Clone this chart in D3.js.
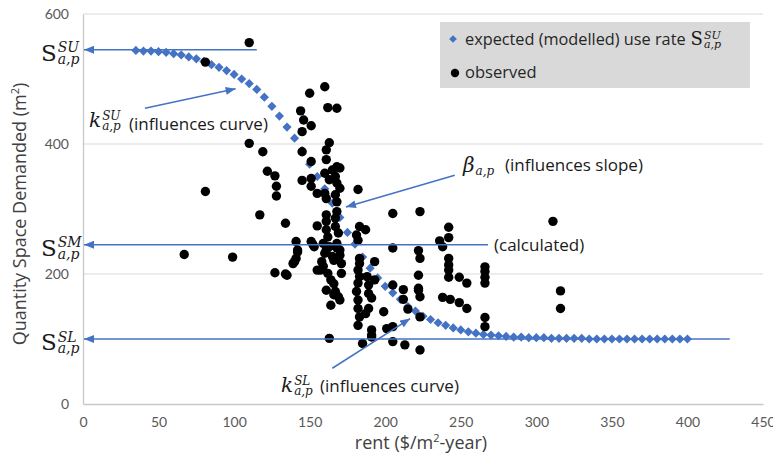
<!DOCTYPE html>
<html>
<head>
<meta charset="utf-8">
<script src="https://cdn.jsdelivr.net/npm/d3@7"></script>
<style>
  html, body { margin: 0; padding: 0; background: #fff; }
  svg { display: block; }
</style>
</head>
<body>
<div id="chart"></div>
<script>
const xTicks = [0, 50, 100, 150, 200, 250, 300, 350, 400, 450];
const yTicks = [0, 200, 400, 600];

// modelled use rate, one diamond every 5 $/m2
const modelRent = [35, 40, 45, 50, 55, 60, 65, 70, 75, 80, 85, 90, 95, 100, 105, 110, 115, 120, 125, 130,
  135, 140, 145, 150, 155, 160, 165, 170, 175, 180, 185, 190, 195, 200, 205, 210, 215, 220, 225, 230,
  235, 240, 245, 250, 255, 260, 265, 270, 275, 280, 285, 290, 295, 300, 305, 310, 315, 320, 325, 330,
  335, 340, 345, 350, 355, 360, 365, 370, 375, 380, 385, 390, 395, 400];
const modelSpace = [544, 543, 543, 542, 541, 539, 537, 534, 531, 527, 522, 518, 513, 507, 500, 493, 484, 472, 458, 443,
  426, 409, 390, 369, 350, 331, 309, 287, 264, 246, 226, 209, 194, 181, 171, 161, 150, 143, 135, 130,
  125, 121, 117, 114, 111, 109, 107, 106, 105, 104, 103, 103, 102, 102, 102, 101, 101, 101, 101, 101,
  100, 100, 100, 100, 100, 100, 100, 100, 100, 100, 100, 100, 100, 100];

// observed [rent, space]
const observed = [
  [110, 556], [81, 526], [160, 488], [150, 478], [162, 456], [168, 455], [144, 451], [146, 437], [151, 428], [145, 419],
  [163, 402], [110, 401], [119, 388], [145, 388], [161, 391], [151, 373], [161, 376], [168, 365], [165, 360], [170, 363],
  [122, 358], [127, 351], [128, 335], [128, 320], [145, 344], [151, 347], [151, 335], [155, 324], [160, 355], [167, 350],
  [163, 345], [168, 340], [170, 332], [160, 324], [167, 322], [161, 316], [168, 311], [182, 330], [81, 327], [117, 291],
  [134, 278], [155, 274], [161, 291], [168, 296], [161, 281], [167, 286], [161, 268], [167, 273], [169, 263], [162, 257],
  [183, 273], [187, 268], [181, 260], [182, 252], [141, 250], [142, 237], [151, 250], [153, 242], [159, 247], [163, 242],
  [168, 247], [170, 237], [160, 232], [165, 227], [169, 224], [141, 224], [139, 216], [158, 219], [193, 219], [67, 230],
  [99, 226], [127, 202], [135, 198], [155, 206], [152, 246], [161, 237], [168, 240], [170, 229], [142, 234], [140, 219],
  [159, 212], [166, 221], [171, 216], [134, 200], [157, 206], [162, 201], [171, 201], [183, 224], [183, 216], [182, 206],
  [183, 196], [182, 186], [181, 173], [182, 160], [182, 147], [183, 134], [182, 121], [188, 196], [189, 183], [189, 170],
  [191, 163], [189, 147], [187, 139], [193, 191], [161, 175], [167, 173], [169, 165], [170, 160], [166, 168], [199, 142],
  [201, 116], [191, 114], [191, 103], [185, 93], [205, 183], [212, 176], [212, 161], [215, 146], [205, 96], [213, 91],
  [223, 83], [163, 101], [205, 240], [222, 236], [223, 224], [222, 198], [222, 175], [223, 165], [223, 134], [205, 293],
  [223, 296], [222, 178], [205, 119], [236, 251], [242, 272], [242, 256], [242, 224], [242, 214], [242, 206], [242, 195],
  [249, 195], [254, 186], [238, 164], [243, 161], [249, 156], [254, 147], [266, 211], [266, 204], [266, 195], [266, 186],
  [266, 133], [266, 119], [311, 281], [316, 174], [316, 147], [238, 242], [191, 106], [164, 191], [164, 152], [166, 185]
];

// reference levels S_SU, S_SM, S_SL and how far right their arrows run
const levels = [
  { sup: 'SU', value: 545, end: 115 },
  { sup: 'SM', value: 245, end: 268 },
  { sup: 'SL', value: 100, end: 428 }
];

const width = 773;
const height = 458;
const blue = '#4472C4';
const sans = '"Open Sans", Lato, sans-serif';
const serif = '"DejaVu Serif", "Liberation Serif", serif';

const x = d3.scaleLinear().domain([0, 450]).range([83, 763]);
const y = d3.scaleLinear().domain([0, 600]).range([404, 14]);

const svg = d3.select('#chart').append('svg')
  .attr('width', width)
  .attr('height', height);

svg.append('defs').append('marker')
  .attr('id', 'arrow')
  .attr('viewBox', '0 0 10 8')
  .attr('refX', 10)
  .attr('refY', 4)
  .attr('markerUnits', 'userSpaceOnUse')
  .attr('markerWidth', 11)
  .attr('markerHeight', 8)
  .attr('orient', 'auto')
  .append('path')
  .attr('d', 'M0,0L10,4L0,8Z')
  .attr('fill', blue);

// grid lines
svg.append('g')
  .selectAll('line')
  .data(yTicks.filter(d => d > 0))
  .enter()
  .append('line')
  .attr('x1', x(0))
  .attr('x2', x(450))
  .attr('y1', d => y(d))
  .attr('y2', d => y(d))
  .attr('stroke', '#d9d9d9')
  .attr('stroke-width', 1);

// axes
const xAxis = svg.append('g')
  .attr('transform', `translate(0,${y(0)})`)
  .call(d3.axisBottom(x).tickValues(xTicks).tickSize(0).tickPadding(13));
const yAxis = svg.append('g')
  .attr('transform', `translate(${x(0)},0)`)
  .call(d3.axisLeft(y).tickValues(yTicks).tickSize(0).tickPadding(14));
[xAxis, yAxis].forEach(a => {
  a.select('.domain').attr('stroke', '#c8c8c8').attr('stroke-width', 1.3);
  a.selectAll('text')
    .attr('font-family', 'Lato, sans-serif')
    .attr('font-size', 14)
    .attr('fill', '#595959');
});

svg.append('text')
  .attr('x', 421)
  .attr('y', 449)
  .attr('text-anchor', 'middle')
  .attr('font-family', sans)
  .attr('font-size', 18)
  .attr('fill', '#404040')
  .call(t => {
    t.append('tspan').text('rent ($/m');
    t.append('tspan').attr('font-size', 11).attr('dy', -7).text('2');
    t.append('tspan').attr('dy', 7).text('-year)');
  });

svg.append('text')
  .attr('transform', 'translate(26,214) rotate(-90)')
  .attr('text-anchor', 'middle')
  .attr('font-family', sans)
  .attr('font-size', 18)
  .attr('fill', '#404040')
  .call(t => {
    t.append('tspan').text('Quantity Space Demanded (m');
    t.append('tspan').attr('font-size', 11).attr('dy', -7).text('2');
    t.append('tspan').attr('dy', 7).text(')');
  });

// modelled curve
svg.append('g')
  .selectAll('path')
  .data(modelRent.map((r, i) => [r, modelSpace[i]]))
  .enter()
  .append('path')
  .attr('d', d3.symbol(d3.symbolSquare, 42))
  .attr('transform', d => `translate(${x(d[0])},${y(d[1])}) rotate(45)`)
  .attr('fill', blue);

// observed
svg.append('g')
  .selectAll('circle')
  .data(observed)
  .enter()
  .append('circle')
  .attr('cx', d => x(d[0]))
  .attr('cy', d => y(d[1]))
  .attr('r', 4.7)
  .attr('fill', '#000');

// math label: main letter with stacked super- and subscript
function mathLabel(px, base, main, sup, sub, size, italic) {
  const g = svg.append('g').attr('font-family', serif).attr('fill', '#1a1a1a');
  const m = g.append('text')
    .attr('x', px)
    .attr('y', base)
    .attr('font-size', size)
    .attr('font-style', italic ? 'italic' : 'normal')
    .text(main);
  const right = px + m.node().getComputedTextLength() + 1;
  const small = Math.round(size * 0.6);
  if (sup) {
    g.append('text')
      .attr('x', right)
      .attr('y', base - size * 0.36)
      .attr('font-size', small)
      .attr('font-style', 'italic')
      .text(sup);
  }
  g.append('text')
    .attr('x', right)
    .attr('y', base + size * 0.14)
    .attr('font-size', small)
    .attr('font-style', 'italic')
    .text(sub);
}

function plainLabel(px, base, txt, size) {
  return svg.append('text')
    .attr('x', px)
    .attr('y', base)
    .attr('font-family', sans)
    .attr('font-size', size)
    .attr('fill', '#1a1a1a')
    .text(txt);
}

// horizontal level arrows + their S labels
levels.forEach(l => {
  svg.append('line')
    .attr('x1', x(l.end))
    .attr('x2', x(0) + 1)
    .attr('y1', y(l.value))
    .attr('y2', y(l.value))
    .attr('stroke', blue)
    .attr('stroke-width', 1.6)
    .attr('marker-end', 'url(#arrow)');
  mathLabel(41, y(l.value) + 11, 'S', l.sup, 'a,p', 23, false);
});
plainLabel(x(268) + 6, y(245) + 6, '(calculated)', 17);

// slanted annotation arrows
const pointers = [
  { from: [41, 455], to: [101, 485] },
  { from: [246, 352], to: [174, 303] },
  { from: [165, 55], to: [216.5, 131.5] }
];
svg.append('g')
  .selectAll('line')
  .data(pointers)
  .enter()
  .append('line')
  .attr('x1', d => x(d.from[0]))
  .attr('y1', d => y(d.from[1]))
  .attr('x2', d => x(d.to[0]))
  .attr('y2', d => y(d.to[1]))
  .attr('stroke', blue)
  .attr('stroke-width', 1.5)
  .attr('marker-end', 'url(#arrow)');

mathLabel(89, 127, 'k', 'SU', 'a,p', 20, true);
plainLabel(129, 130, '(influences curve)', 17);
mathLabel(463, 172, 'β', null, 'a,p', 20, true);
plainLabel(505, 171, '(influences slope)', 17);
mathLabel(281, 392, 'k', 'SL', 'a,p', 20, true);
plainLabel(320, 392, '(influences curve)', 17);

// legend
const legend = svg.append('g');
legend.append('rect')
  .attr('x', 440)
  .attr('y', 22)
  .attr('width', 310)
  .attr('height', 66)
  .attr('fill', '#d9d9d9');
legend.append('path')
  .attr('d', d3.symbol(d3.symbolSquare, 30))
  .attr('transform', 'translate(453,39) rotate(45)')
  .attr('fill', blue);
legend.append('circle')
  .attr('cx', 455)
  .attr('cy', 73)
  .attr('r', 4.2)
  .attr('fill', '#000');
const l1 = plainLabel(465, 45, 'expected (modelled) use rate', 16.3).attr('fill', '#262626');
mathLabel(465 + l1.node().getComputedTextLength() + 5, 45, 'S', 'SU', 'a,p', 18, false);
plainLabel(465, 78, 'observed', 16.5).attr('fill', '#262626');
</script>
</body>
</html>
